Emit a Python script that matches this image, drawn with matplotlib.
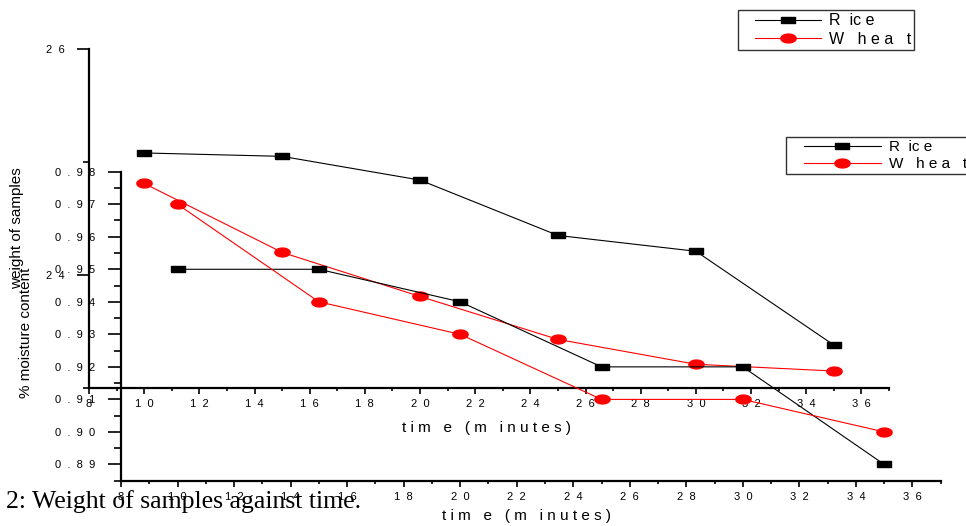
import numpy as np
import matplotlib
matplotlib.use('Agg')
import matplotlib.pyplot as plt
from matplotlib.ticker import MultipleLocator, FixedLocator
from matplotlib.lines import Line2D
from matplotlib.legend_handler import HandlerLine2D

plt.rcParams['font.family'] = ['Liberation Sans', 'DejaVu Sans']

# time in minutes (same for every series)
time = [10, 15, 20, 25, 30, 35]

# back plot: % moisture content
rice_moist = [25.08, 25.05, 24.84, 24.35, 24.21, 23.38]
wheat_moist = [24.81, 24.20, 23.81, 23.43, 23.21, 23.15]

# front plot: weight of samples
rice_weight = [0.95, 0.95, 0.94, 0.92, 0.92, 0.89]
wheat_weight = [0.97, 0.94, 0.93, 0.91, 0.91, 0.90]

xticks = [8, 10, 12, 14, 16, 18, 20, 22, 24, 26, 28, 30, 32, 34, 36]
xtick_labels = ['8', '1  0', '1  2', '1  4', '1  6', '1  8', '2  0', '2  2', '2  4',
                '2  6', '2  8', '3  0', '3  2', '3  4', '3  6']
moist_ticks = [24, 26]
moist_labels = ['2  4', '2  6']
weight_ticks = [0.89, 0.90, 0.91, 0.92, 0.93, 0.94, 0.95, 0.96, 0.97, 0.98]
weight_labels = ['0  .  8  9', '0  .  9  0', '0  .  9  1', '0  .  9  2', '0  .  9  3',
                 '0  .  9  4', '0  .  9  5', '0  .  9  6', '0  .  9  7', '0  .  9  8']
xlab = 't i m   e   ( m   i n u t e s )'
rice_lab = 'R  ic e'
wheat_lab = 'W   h e a   t'

W, H = 966, 526
fig = plt.figure(figsize=(W / 100, H / 100), dpi=100)

# flat markers like the original export
sq = [(-1, -0.5), (1, -0.5), (1, 0.5), (-1, 0.5), (-1, -0.5)]
t = np.linspace(0, 2 * np.pi, 41)
ell = list(zip(np.cos(t), 0.58 * np.sin(t)))


def style_axes(ax, ylen, ylen_minor):
    for s in ['top', 'right']:
        ax.spines[s].set_visible(False)
    ax.spines['left'].set_linewidth(1.6)
    ax.spines['bottom'].set_linewidth(1.6)
    ax.set_facecolor('none')
    ax.xaxis.set_major_locator(FixedLocator(xticks))
    ax.set_xticklabels(xtick_labels)
    ax.xaxis.set_minor_locator(MultipleLocator(1))
    ax.tick_params(axis='x', which='major', direction='out', length=4, width=1.2,
                   labelsize=8, pad=4)
    ax.tick_params(axis='x', which='minor', direction='out', length=2.5, width=1.2)
    ax.tick_params(axis='y', which='major', direction='out', length=ylen, width=1.2,
                   labelsize=8, pad=9)
    ax.tick_params(axis='y', which='minor', direction='out', length=ylen_minor, width=1.2)


def add_legend(ax, x, y, fs, hl, xpad, tpad):
    leg = ax.legend(loc='upper left', bbox_to_anchor=(x / W, 1 - y / H),
                    bbox_transform=fig.transFigure, frameon=True, fancybox=False,
                    edgecolor='black', fontsize=fs, handlelength=hl,
                    borderpad=0.2, labelspacing=0.22, handletextpad=tpad,
                    borderaxespad=0,
                    handler_map={Line2D: HandlerLine2D(xpad=xpad)})
    leg.get_frame().set_linewidth(1.0)
    return leg


# ---- back plot: moisture content ----
axA = fig.add_axes([89 / W, 138 / H, 800 / W, 339 / H])
style_axes(axA, 8.6, 4.3)
axA.set_xlim(8, 37)
axA.set_ylim(23, 26)
axA.yaxis.set_major_locator(FixedLocator(moist_ticks))
axA.set_yticklabels(moist_labels)
axA.yaxis.set_minor_locator(MultipleLocator(1))
axA.plot(time, rice_moist, color='black', lw=0.8, marker=sq, ms=10, label=rice_lab)
axA.plot(time, wheat_moist, color='red', lw=0.8, marker=ell, ms=11, label=wheat_lab)
axA.set_xlabel(xlab, fontsize=11)
axA.xaxis.set_label_coords(487 / W, 1 - 421 / H, transform=fig.transFigure)
axA.set_ylabel('% moisture content', fontsize=11)
axA.yaxis.set_label_coords(33 / W, 1 - 333 / H, transform=fig.transFigure)
add_legend(axA, 738, 10, 11.5, 5.0, 0.85, 0.5)

# ---- front plot: weight of samples ----
axB = fig.add_axes([121 / W, 45.3 / H, 819.7 / W, 309 / H])
style_axes(axB, 9.4, 5.0)
axB.set_xlim(8, 37)
axB.set_ylim(0.885, 0.98)
axB.yaxis.set_major_locator(FixedLocator(weight_ticks))
axB.set_yticklabels(weight_labels)
axB.yaxis.set_minor_locator(MultipleLocator(0.005))
axB.plot(time, rice_weight, color='black', lw=0.8, marker=sq, ms=10, label=rice_lab)
axB.plot(time, wheat_weight, color='red', lw=0.8, marker=ell, ms=11, label=wheat_lab)
axB.set_xlabel(xlab, fontsize=11)
axB.xaxis.set_label_coords(527 / W, 1 - 509 / H, transform=fig.transFigure)
axB.set_ylabel('weight of samples', fontsize=11)
axB.yaxis.set_label_coords(24 / W, 1 - 228 / H, transform=fig.transFigure)
add_legend(axB, 786, 137, 11, 6.0, 0.95, 0.55)

fig.text(6 / W, 1 - 508 / H, '2: Weight of samples against time.',
         family='Liberation Serif', fontsize=18.5, va='baseline', ha='left')

fig.savefig('out.png', dpi=100)
